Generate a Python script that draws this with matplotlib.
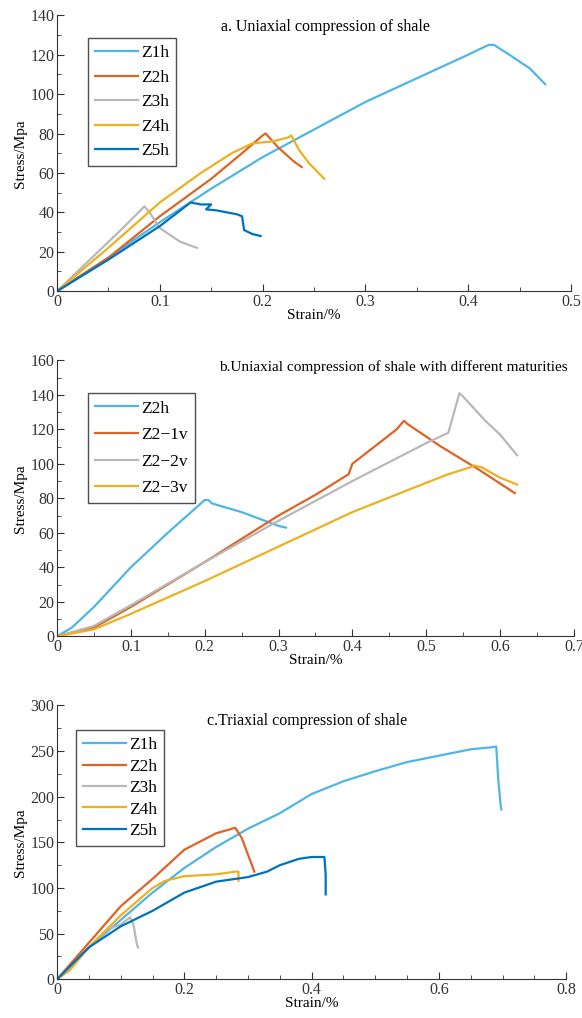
import matplotlib
matplotlib.use("Agg")
import matplotlib.pyplot as plt
from matplotlib.ticker import MultipleLocator

plt.rcParams['font.family'] = ['Liberation Serif', 'DejaVu Serif']
plt.rcParams['font.size'] = 10

c_lblue = '#4DB6E6'
c_orange = '#DE6425'
c_gray = '#B8B8B8'
c_yellow = '#EDB120'
c_blue = '#0072BD'

# panel a - uniaxial
a_z1h_x = [0, 0.05, 0.1, 0.15, 0.2, 0.25, 0.3, 0.35, 0.4, 0.42, 0.425, 0.44, 0.46, 0.475]
a_z1h_y = [0, 17, 35, 52, 68, 82, 96, 108, 120, 125, 125, 120, 113, 105]
a_z2h_x = [0, 0.05, 0.1, 0.15, 0.18, 0.2, 0.203, 0.215, 0.23, 0.238]
a_z2h_y = [0, 17, 38, 57, 70, 79, 80, 73, 66, 63]
a_z3h_x = [0, 0.03, 0.06, 0.085, 0.09, 0.1, 0.12, 0.136]
a_z3h_y = [0, 15, 30, 43, 40, 32, 25, 22]
a_z4h_x = [0, 0.05, 0.1, 0.14, 0.17, 0.19, 0.21, 0.225, 0.228, 0.235, 0.245, 0.26]
a_z4h_y = [0, 22, 45, 60, 70, 75, 76, 78, 79, 72, 65, 57]
a_z5h_x = [0, 0.05, 0.1, 0.13, 0.14, 0.15, 0.145, 0.155, 0.175, 0.18, 0.182, 0.19, 0.198]
a_z5h_y = [0, 16, 33, 45, 44, 44, 41.5, 41, 39, 38, 31, 29, 28]

# panel b - maturities
b_z2h_x = [0, 0.02, 0.05, 0.1, 0.15, 0.2, 0.205, 0.21, 0.25, 0.3, 0.31]
b_z2h_y = [0, 5, 17, 40, 60, 79, 79, 77, 72, 64, 63]
b_z21_x = [0, 0.05, 0.1, 0.2, 0.3, 0.35, 0.395, 0.4, 0.43, 0.46, 0.47, 0.475, 0.52, 0.57, 0.62]
b_z21_y = [0, 5, 17, 43, 70, 82, 94, 100, 110, 120, 125, 123, 110, 97, 83]
b_z22_x = [0, 0.05, 0.1, 0.2, 0.3, 0.4, 0.5, 0.525, 0.53, 0.545, 0.55, 0.58, 0.6, 0.623]
b_z22_y = [0, 6, 18, 43, 67, 90, 112, 117, 118, 141, 139, 125, 117, 105]
b_z23_x = [0, 0.05, 0.1, 0.2, 0.3, 0.4, 0.5, 0.53, 0.56, 0.565, 0.575, 0.6, 0.623]
b_z23_y = [0, 4, 13, 32, 52, 72, 89, 94, 98, 99, 98, 92, 88]

# panel c - triaxial
c_z1h_x = [0, 0.05, 0.1, 0.15, 0.2, 0.25, 0.3, 0.35, 0.4, 0.45, 0.5, 0.55, 0.6, 0.65, 0.68, 0.69, 0.693, 0.697, 0.698]
c_z1h_y = [0, 35, 65, 95, 122, 145, 165, 182, 203, 217, 228, 238, 245, 252, 254, 255, 220, 190, 186]
c_z2h_x = [0, 0.05, 0.1, 0.15, 0.2, 0.25, 0.28, 0.29, 0.31]
c_z2h_y = [0, 40, 80, 110, 142, 160, 166, 155, 118]
c_z3h_x = [0, 0.03, 0.06, 0.08, 0.1, 0.115, 0.12, 0.125, 0.127]
c_z3h_y = [0, 20, 42, 55, 60, 68, 60, 40, 35]
c_z4h_x = [0, 0.02, 0.05, 0.1, 0.15, 0.17, 0.2, 0.25, 0.28, 0.285, 0.285]
c_z4h_y = [0, 10, 35, 70, 100, 108, 113, 115, 118, 118, 108]
c_z5h_x = [0, 0.05, 0.1, 0.15, 0.2, 0.25, 0.3, 0.33, 0.35, 0.38, 0.4, 0.42, 0.422, 0.422]
c_z5h_y = [0, 35, 58, 75, 95, 107, 112, 118, 125, 132, 134, 134, 115, 93]

fig = plt.figure(figsize=(5.82, 10.18), dpi=100)


def style(ax, xmax, xmaj, xmin, ymax, ymaj, ymin):
    ax.set_xlim(0, xmax)
    ax.set_ylim(0, ymax)
    ax.xaxis.set_major_locator(MultipleLocator(xmaj))
    ax.xaxis.set_minor_locator(MultipleLocator(xmin))
    ax.yaxis.set_major_locator(MultipleLocator(ymaj))
    ax.yaxis.set_minor_locator(MultipleLocator(ymin))
    ax.spines['top'].set_visible(False)
    ax.spines['right'].set_visible(False)
    for s in ('left', 'bottom'):
        ax.spines[s].set_color('#333333')
        ax.spines[s].set_linewidth(0.8)
    ax.tick_params(which='both', direction='in', colors='#333333', labelsize=11.5)
    ax.tick_params(which='major', length=5, pad=2)
    ax.tick_params(which='minor', length=3)
    ax.set_xlabel('Strain/%', fontsize=11, labelpad=-1)
    ax.set_ylabel('Stress/Mpa', fontsize=11, labelpad=2)


def leg(ax, anchor, sp):
    l = ax.legend(loc='upper left', bbox_to_anchor=anchor, fancybox=False,
                  edgecolor='#222222', fontsize=12.5, handlelength=2.5,
                  labelspacing=sp, borderpad=0.4, handletextpad=0.15,
                  borderaxespad=0)
    l.get_frame().set_linewidth(1.0)


ax1 = fig.add_axes([0.098, 0.714, 0.883, 0.271])
ax1.plot(a_z1h_x, a_z1h_y, color=c_lblue, lw=1.6, label='Z1h')
ax1.plot(a_z2h_x, a_z2h_y, color=c_orange, lw=1.6, label='Z2h')
ax1.plot(a_z3h_x, a_z3h_y, color=c_gray, lw=1.6, label='Z3h')
ax1.plot(a_z4h_x, a_z4h_y, color=c_yellow, lw=1.6, label='Z4h')
ax1.plot(a_z5h_x, a_z5h_y, color=c_blue, lw=1.6, label='Z5h')
style(ax1, 0.5, 0.1, 0.05, 140, 20, 10)
ax1.set_xticks([0, 0.1, 0.2, 0.3, 0.4, 0.5], ['0', '0.1', '0.2', '0.3', '0.4', '0.5'])
leg(ax1, (0.06, 0.917), 0.48)
ax1.text(0.523, 0.957, 'a. Uniaxial compression of shale', transform=ax1.transAxes,
         ha='center', va='center', fontsize=11.5)

ax2 = fig.add_axes([0.098, 0.375, 0.888, 0.271])
ax2.plot(b_z2h_x, b_z2h_y, color=c_lblue, lw=1.6, label='Z2h')
ax2.plot(b_z21_x, b_z21_y, color=c_orange, lw=1.6, label='Z2\u22121v')
ax2.plot(b_z22_x, b_z22_y, color=c_gray, lw=1.6, label='Z2\u22122v')
ax2.plot(b_z23_x, b_z23_y, color=c_yellow, lw=1.6, label='Z2\u22123v')
style(ax2, 0.7, 0.1, 0.05, 160, 20, 10)
ax2.set_xticks([0, 0.1, 0.2, 0.3, 0.4, 0.5, 0.6, 0.7], ['0', '0.1', '0.2', '0.3', '0.4', '0.5', '0.6', '0.7'])
leg(ax2, (0.06, 0.88), 0.6)
ax2.text(0.65, 0.975, 'b.Uniaxial compression of shale with different maturities',
         transform=ax2.transAxes, ha='center', va='center', fontsize=11)

ax3 = fig.add_axes([0.098, 0.038, 0.875, 0.269])
ax3.plot(c_z1h_x, c_z1h_y, color=c_lblue, lw=1.6, label='Z1h')
ax3.plot(c_z2h_x, c_z2h_y, color=c_orange, lw=1.6, label='Z2h')
ax3.plot(c_z3h_x, c_z3h_y, color=c_gray, lw=1.6, label='Z3h')
ax3.plot(c_z4h_x, c_z4h_y, color=c_yellow, lw=1.6, label='Z4h')
ax3.plot(c_z5h_x, c_z5h_y, color=c_blue, lw=1.6, label='Z5h')
style(ax3, 0.8, 0.2, 0.05, 300, 50, 25)
ax3.set_xticks([0, 0.2, 0.4, 0.6, 0.8], ['0', '0.2', '0.4', '0.6', '0.8'])
leg(ax3, (0.037, 0.909), 0.3)
ax3.text(0.49, 0.945, 'c.Triaxial compression of shale', transform=ax3.transAxes,
         ha='center', va='center', fontsize=11.5)

fig.savefig('out.png', dpi=100)
